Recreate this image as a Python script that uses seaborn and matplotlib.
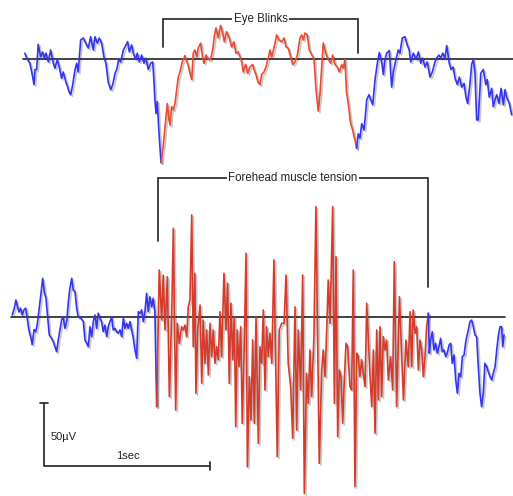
import numpy as np
import pandas as pd
import matplotlib
matplotlib.use("Agg")
import matplotlib.pyplot as plt
import matplotlib.patheffects as pe
import seaborn as sns

# --- data (time in ms, amplitude in uV relative to each channel's baseline) ---
top_ms = [90, 101, 120, 131, 137, 145, 151, 161, 170, 185, 197, 207, 217, 231, 245, 261, 271, 285, 297, 311,
          321, 337, 348, 357, 366, 378, 392, 402, 411, 426, 442, 462, 472, 486, 502, 512, 526, 538, 552, 566,
          578, 592, 607, 619, 633, 643, 655, 667, 683, 699, 709, 719, 733, 743, 757, 767, 779, 793, 807, 819,
          833, 848, 860, 867, 873, 880, 887, 899, 910, 923, 938, 948, 958, 964, 974, 984, 994, 1004, 1014, 1024,
          1038, 1054, 1074, 1084, 1095, 1104, 1114, 1125, 1134, 1149, 1161, 1169, 1181, 1195, 1209, 1221, 1231,
          1241, 1255, 1269, 1281, 1291, 1305, 1321, 1335, 1349, 1361, 1375, 1386, 1396, 1405, 1420, 1432, 1446,
          1462, 1470, 1482, 1494, 1506, 1516, 1530, 1542, 1556, 1566, 1577, 1590, 1607, 1620, 1637, 1651, 1663,
          1676, 1691, 1703, 1717, 1731, 1747, 1757, 1767, 1777, 1791, 1803, 1818, 1831, 1843, 1857, 1867, 1878,
          1887, 1902, 1917, 1932, 1944, 1958, 1972, 1984, 1998, 2008, 2018, 2027, 2038, 2051, 2064, 2078, 2088,
          2098, 2108, 2119, 2133, 2149, 2163, 2173, 2185, 2199, 2213, 2225, 2239, 2249, 2259, 2269, 2285, 2299,
          2309, 2325, 2339, 2349, 2363, 2379, 2393, 2405, 2414, 2430, 2446, 2460, 2474, 2486, 2500, 2514, 2530,
          2544, 2560, 2570, 2584, 2596, 2607, 2620, 2631, 2646, 2657, 2670, 2681, 2695, 2707, 2721, 2735, 2747,
          2757, 2771, 2781, 2791, 2801, 2811, 2821, 2836, 2851, 2866, 2875, 2887, 2902, 2911, 2922, 2932, 2946,
          2958, 2972, 2982, 2992, 3008, 3022]
top_uv = [5, 1, -3, -10, -14, -20, -8, -8, 12, 2, 6, 1, 5, -2, 7.5, -3, -7, 0, -6, -15,
          -10, -18, -22, -26, -28, -20, -8, -3, -10, 15.5, 17, 11.5, 9, 18, 7.5, 18, 13, 17, 13, 2,
          -3, -18, -24, -20, -11, -8, 0, -2, 7.5, 11.5, 14, 6, 11.5, 5, 0, 5, -2, 3.5, -3, 1,
          -8, -3, -2, -16, -32, -43, -33.5, -61, -82, -69, -48, -35, -48, -52, -37.5, -40, -35, -24, -14, -10,
          -2, 3, -5, -11, -16, 5, 7.5, 2, 9, 13, 1, -3, 3.5, 0, 0, 7.5, 18,
          25, 17, 27, 21, 14, 22, 17, 10, 14, 5, 6, 2, -2, -10, -4, -11, -6,
          -4, -8, -12, -18, -20, -12, -10, -6, 1, 7.5, 2, 9, 19.5, 15.5, 14, 17, 10,
          9, 2, -4, -2, 3.5, 17, 19.5, 15.5, 21, 19.5, 7.5, 3.5, 1, -23, -41, -28, -6,
          13, 5, 0, -3, 3.5, -4, -6, -10, -4, -7, 0, -26, -35, -50, -56, -64, -70.5,
          -59, -62.5, -51, -56, -32, -28, -32, -36, -16, -3, 5.4, -2, -12, 0, 5, 7, -22,
          -10, 0, 7.5, 5, 17, 18, 11.5, 7.5, -2, 5, 0, 6, -3, 1, -6, -2, -14,
          -10, -2, 1, 3.5, 1, 5, 1, 11, -3, -8, -6, -15, -20, -14, -22, -19, -30,
          -35, -19, -4, 0, -10, -48, -48, -11, -8, -20, -16, -30, -23, -37.5, -32, -28, -35,
          -23, -36, -24, -30, -35, -44]

bottom_ms = [14, 26, 36, 46, 54, 64, 74, 84, 95, 104, 114, 127, 134, 145, 155, 164, 175, 187, 197, 207,
             217, 227, 237, 251, 261, 271, 281, 291, 301, 311, 321, 331, 342, 351, 361, 372, 381, 392, 402, 411,
             428, 442, 452, 462, 472, 482, 492, 502, 512, 522, 532, 542, 552, 562, 572, 583, 592, 602, 613, 622,
             633, 643, 652, 663, 673, 683, 693, 703, 713, 723, 733, 743, 753, 763, 773, 783, 793, 803, 813, 823,
             833, 843, 854, 863, 873, 884,
             899, 914, 923, 934, 948, 960, 974, 984, 998, 1008, 1020, 1034, 1044, 1054, 1064, 1074, 1084, 1095,
             1104, 1114, 1120, 1131, 1145, 1155, 1164, 1175, 1185, 1195, 1205, 1215, 1225, 1235, 1245, 1255, 1265,
             1275, 1289, 1301, 1311, 1321, 1331, 1342, 1351, 1360, 1369, 1380, 1390, 1399, 1411, 1422, 1430, 1442,
             1452, 1462, 1472, 1482, 1496, 1506, 1516, 1526, 1536, 1546, 1556, 1566, 1577, 1590, 1610, 1622, 1637,
             1651, 1663, 1676, 1691, 1703, 1717, 1727, 1737, 1751, 1763, 1773, 1787, 1797, 1807, 1817, 1831, 1843,
             1863, 1878, 1887, 1898, 1908, 1917, 1928, 1944, 1954, 1964, 1974, 1984, 1994, 2004, 2014, 2024, 2034,
             2048, 2058, 2068, 2078, 2089, 2098, 2108, 2119, 2128, 2139, 2149, 2158, 2169, 2179, 2189, 2199, 2209,
             2219, 2229, 2239, 2249, 2259, 2269, 2279, 2293, 2305, 2315, 2329, 2346, 2370, 2385, 2399, 2410, 2420,
             2429, 2440, 2450, 2460, 2470, 2480, 2490, 2500, 2510, 2520,
             2526, 2534, 2544, 2554, 2564, 2574, 2584, 2594, 2604, 2614, 2625, 2634, 2645, 2655, 2664, 2675, 2685,
             2695, 2705, 2715, 2725, 2735, 2747, 2761, 2771, 2781, 2791, 2801, 2811, 2821, 2831, 2841, 2851, 2861,
             2872, 2881, 2892, 2902, 2911, 2922, 2932, 2941, 2952, 2962, 2968, 2976]
bottom_uv = [1.6, 7, 13.5, 8, 4, 7, 1.6, 5.6, 7, -1, -10.3, -17, -22, -10, -11.7, -6.4, 5.6, 18.8, 30.7, 20,
             14.8, 0, -14.3, -17, -19.6, -23.6, -27.6, -18.3, -10.3, -2.4, 0, -9, -3.7, 10.9, 22.8, 30.7, 21.4,
             20, 6.9, 0, -1, -3.7, -18.3, -20.9, -23.6, -7.7, -15.6, -3.7, 1.6, -9, 3, -1, -3.7, -11.7, -6.4,
             -15.6, -7.7, -3.7, 0, -10.3, -9, -11.7, -12.9, -10.3, -15.6, -1, -9, -5, -9, -3.7, -10.3, -17,
             -26.2, -32.8, 4.2, 3, 5.6, -3.7, 4.2, 18.8, 4.2, 16, 8, 14.8, 4.2, -71.2,
             37.3, -2.4, 33.3, -10.3, 32, -63.3, 0, 70.4, -73.8, -5, -20.9, -7.7, -10.3, -6.4, -15.6, 8, 13.5, 81,
             -23.6, 34.7, -60.6, -10.3, 9.5, -52.6, -2.4, -36.8, -10.3, -46, -5, -31.5, -10.3, -36.8, -23.6, -34,
             4.2, -31.5, 34.7, -10.3, 26.8, -52.6, 10.9, -34, 0, -87, -10.3, -39.5, -7.7, -84.4, -23.6, 50.6,
             -118.9, -47.4, -81.8, -18.3, -84.4, 0, -100.3, -23.6, -36.8, 5.6, -58, -7.7, -31.5, -12.9, -36.8,
             45.3, -110.9, -10.3, -5, -5, 33.3, -36.8, -55.3, -96.3, 8, -89.7, -10.3, -58, 33.3, -140, -44.7,
             -68.5, -26.2, -63.3, -15.6, 87.6, -116.2, -42, -26.2, -47.4, -10.3, 29.4, -5, 87.6, -68.5, 47.9,
             -95, -42, -47.4, -84.4, -50, -20.9, -23.6, -55.3, -58, 37.3, -134.7, -28.8, -31.5, -47.4, -34,
             -44.7, -55.3, 10.9, -15.6, -47.4, -71.2, -26.2, -92.3, -10.3, -65.9, -7.7, -63.3, -15.6, -26.2,
             -18.3, -50, -31.5, -58, 43.9, -71.2, 16.1, -65.9, -18.3, -39.5, 4.2, -39.5, 5.6, -12.9, -7.7, -42,
             -18.3, -26.2, -47.4, -31.5, -7.7, 3,
             -28.8, -18.3, -11.7, -26.2, -20.9, -28.8, -23.6, -17, -27.6, -26.2, -31.5, -28.8, -22.2, -20.9,
             -36.8, -30.2, -50, -60.6, -44.7, -47.4, -31.5, -30.2, -18.3, -10.3, -3.7, -2.4, -7.7, -14.3, -15.6,
             -39.5, -60.6, -71.2, -60.6, -36.8, -39.5, -43.4, -47.4, -50, -44.7, -39.5, -26.2, -15.6, -7.7, -7.7,
             -23.6, -14.3]

blink_window = (910, 2088)      # ms
tension_window = (884, 2520)    # ms
labels = ["Eye Blinks", "Forehead muscle tension"]
scale_uv = 50
scale_ms = 1000

BLUE = "#3434ee"
RED_TOP = "#ec4a2e"
RED_BOTTOM = "#d43b2b"
INK = "#333333"

# vertical placement of the two channels (uV in the canvas frame)
TOP_BASE = 346.6
BOTTOM_BASE = 142.1


def split_segments(t, v, window):
    """Return (before, during, after) frames, sharing the boundary points."""
    df = pd.DataFrame({"t": t, "v": v})
    lo, hi = window
    before = df[df.t <= lo]
    during = df[(df.t >= lo) & (df.t <= hi)]
    after = df[df.t >= hi]
    return before, during, after


def draw_trace(ax, t, v, base, window, red):
    before, during, after = split_segments(t, v, window)
    shadow = [pe.SimpleLineShadow(offset=(1.2, -1.2), shadow_color="k", alpha=0.22),
              pe.Normal()]
    for part, color in [(before, BLUE), (during, red), (after, BLUE)]:
        part = part.assign(y=part.v + base)
        sns.lineplot(data=part, x="t", y="y", ax=ax, color=color, lw=1.2,
                     estimator=None, sort=False, legend=False)
        ax.lines[-1].set_path_effects(shadow)


def draw_bracket(ax, window, y_top, left_drop, right_drop, text):
    lo, hi = window
    ax.plot([lo, lo, hi, hi], [y_top - left_drop, y_top, y_top, y_top - right_drop],
            color=INK, lw=1.3, solid_joinstyle="miter")
    ax.text((lo + hi) / 2, y_top, text, ha="center", va="center", fontsize=8.3,
            family="Liberation Sans", color="#222222",
            bbox=dict(facecolor="white", edgecolor="none", pad=1.2))


sns.set_style("white")
fig = plt.figure(figsize=(5.13, 4.96), dpi=100)
ax = fig.add_axes([0, 0, 1, 1])

# baselines
ax.plot([78, 3030], [TOP_BASE, TOP_BASE], color="#222222", lw=1.2)
ax.plot([6, 2982], [BOTTOM_BASE, BOTTOM_BASE], color="#222222", lw=1.2)

draw_trace(ax, top_ms, top_uv, TOP_BASE, blink_window, RED_TOP)
draw_trace(ax, bottom_ms, bottom_uv, BOTTOM_BASE, tension_window, RED_BOTTOM)

draw_bracket(ax, (922, 2096), 378.7, 22.2, 27, labels[0])
draw_bracket(ax, (892, 2518), 252.5, 50, 86.5, labels[1])

# scale bar
x0, y0 = 205, 23.8
ax.plot([x0, x0, x0 + scale_ms], [y0 + scale_uv, y0, y0], color=INK, lw=1.3)
ax.plot([x0 - 27, x0 + 27], [y0 + scale_uv, y0 + scale_uv], color=INK, lw=1.3)
ax.plot([x0 + scale_ms, x0 + scale_ms], [y0 - 3.5, y0 + 3.5], color=INK, lw=1.3)
ax.text(x0 + 42, y0 + 23, f"{scale_uv}µV", ha="left", va="center", fontsize=8,
        family="Liberation Sans", color="#222222")
ax.text(x0 + 506, y0 + 8, "1sec", ha="center", va="center", fontsize=8,
        family="Liberation Sans", color="#222222")

ax.set_xlim(-60, 3030)
ax.set_ylim(0, 393.8)
ax.axis("off")

fig.savefig("out.png", dpi=100)
